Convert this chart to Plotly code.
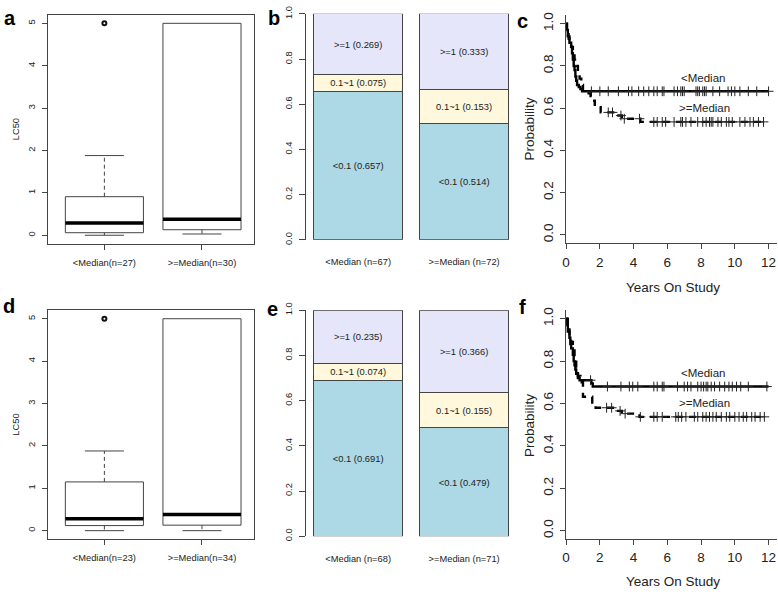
import numpy as np
import plotly.graph_objects as go

W, H = 778, 595
FONT = "Liberation Sans, Arial, Helvetica, sans-serif"
INK = "#222222"
EDGE = "#444444"

# ---------------- data ----------------
# panel a / d : LC50 boxplots (summary statistics)
box_groups_a = ["<Median(n=27)", ">=Median(n=30)"]
box_a_lower = [0.0, 0.03]
box_a_q1 = [0.06, 0.13]
box_a_median = [0.29, 0.38]
box_a_q3 = [0.91, 5.0]
box_a_upper = [1.88, 5.0]
box_a_outliers = [[5.0], []]

box_groups_d = ["<Median(n=23)", ">=Median(n=34)"]
box_d_lower = [0.0, 0.0]
box_d_q1 = [0.12, 0.13]
box_d_median = [0.28, 0.38]
box_d_q3 = [1.15, 5.0]
box_d_upper = [1.88, 5.0]
box_d_outliers = [[5.0], []]

box_yticks = [0, 1, 2, 3, 4, 5]

# panel b / e : stacked proportions
bar_levels = ["<0.1", "0.1~1", ">=1"]
bar_colors = ["#ADD8E6", "#FFF8DC", "#E6E6FA"]
bar_groups_b = ["<Median (n=67)", ">=Median (n=72)"]
bar_b_low = [0.657, 0.514]
bar_b_mid = [0.075, 0.153]
bar_b_high = [0.269, 0.333]
bar_groups_e = ["<Median (n=68)", ">=Median (n=71)"]
bar_e_low = [0.691, 0.479]
bar_e_mid = [0.074, 0.155]
bar_e_high = [0.235, 0.366]
bar_yticks = [0.0, 0.2, 0.4, 0.6, 0.8, 1.0]

# panel c / f : Kaplan-Meier curves
km_labels = ["<Median", ">=Median"]
c_lo_t = [0, 0.05, 0.1, 0.15, 0.2, 0.3, 0.35, 0.4, 0.45, 0.5, 0.55, 0.6, 0.65, 0.75, 0.85, 0.95, 12.0]
c_lo_s = [1.0, 0.97, 0.95, 0.93, 0.91, 0.89, 0.86, 0.83, 0.80, 0.78, 0.75, 0.73, 0.71, 0.70, 0.69, 0.68, 0.68]
c_lo_cens = [1.5, 2.0, 2.5, 3.1, 3.7, 3.9, 4.3, 4.6, 4.9, 5.2, 5.4, 5.7, 5.8, 6.4, 6.6, 6.8, 6.9, 7.0,
             7.7, 7.8, 7.9, 8.1, 8.2, 8.3, 8.7, 9.1, 9.6, 9.8, 10.0, 10.3, 10.8, 11.3, 12.0]
c_hi_t = [0, 0.05, 0.1, 0.2, 0.3, 0.4, 0.5, 0.6, 0.7, 0.8, 0.9, 1.0, 1.45, 1.7, 2.05, 2.9, 3.3, 4.4, 11.8]
c_hi_s = [1.0, 0.97, 0.94, 0.92, 0.89, 0.86, 0.83, 0.80, 0.77, 0.74, 0.71, 0.67, 0.635, 0.605, 0.58,
          0.565, 0.55, 0.535, 0.535]
c_hi_cens = [2.5, 2.75, 3.25, 3.45, 4.35, 5.2, 5.4, 5.7, 5.9, 6.4, 6.8, 6.9, 7.1, 7.4, 7.8, 8.1, 8.3,
             8.5, 8.6, 8.7, 9.0, 9.2, 9.5, 9.65, 9.85, 10.3, 10.6, 10.9, 11.1, 11.4, 11.7]

f_lo_t = [0, 0.05, 0.1, 0.2, 0.25, 0.3, 0.4, 0.45, 0.5, 0.55, 0.6, 0.7, 0.8, 1.5, 1.58, 12.0]
f_lo_s = [1.0, 0.97, 0.94, 0.91, 0.88, 0.86, 0.83, 0.80, 0.78, 0.76, 0.74, 0.72, 0.71, 0.695, 0.68, 0.68]
f_lo_cens = [1.45, 2.45, 3.25, 3.75, 3.95, 4.25, 5.2, 5.4, 5.7, 5.8, 6.6, 7.0, 7.2, 7.4, 7.8, 8.0, 8.15,
             8.3, 8.4, 8.6, 8.8, 9.1, 9.4, 9.65, 9.85, 10.1, 10.35, 10.8, 11.9]
f_hi_t = [0, 0.1, 0.2, 0.3, 0.4, 0.5, 0.6, 0.7, 0.85, 1.0, 1.55, 1.75, 3.0, 3.3, 4.35, 11.8]
f_hi_s = [1.0, 0.96, 0.92, 0.89, 0.85, 0.81, 0.77, 0.73, 0.70, 0.632, 0.605, 0.58, 0.565, 0.552,
          0.537, 0.537]
f_hi_cens = [2.4, 2.7, 3.2, 3.5, 4.4, 5.2, 5.4, 5.7, 6.5, 6.65, 6.85, 7.1, 7.6, 7.8, 8.1, 8.3, 8.5,
             8.7, 8.9, 9.2, 9.5, 9.7, 10.0, 10.25, 10.5, 10.7, 11.0, 11.2, 11.5, 11.75]
km_xticks = [0, 2, 4, 6, 8, 10, 12]
km_yticks = [0.0, 0.2, 0.4, 0.6, 0.8, 1.0]


# ---------------- helpers ----------------
def pxx(x):
    return x / W


def pxy(y):
    return 1 - y / H


def dom_x(a, b):
    return [pxx(a), pxx(b)]


def dom_y(top, bottom):
    return [pxy(bottom), pxy(top)]


fig = go.Figure()


def add_box_panel(n, lower, q1, med, q3, upper, outliers):
    xa, ya = f"x{n}", f"y{n}"
    hw, cw = 0.4, 0.2
    for i in range(len(med)):
        c = i + 1
        fig.add_trace(go.Scatter(x=[c - hw, c + hw, c + hw, c - hw, c - hw],
                                 y=[q1[i], q1[i], q3[i], q3[i], q1[i]],
                                 mode="lines", fill="toself", fillcolor="white",
                                 line=dict(color=EDGE, width=1), xaxis=xa, yaxis=ya,
                                 hoverinfo="skip", showlegend=False))
        for a, b in ((q3[i], upper[i]), (q1[i], lower[i])):
            if a != b:
                fig.add_trace(go.Scatter(x=[c, c], y=[a, b], mode="lines",
                                         line=dict(color=EDGE, width=1, dash="4px,3px"),
                                         xaxis=xa, yaxis=ya, hoverinfo="skip", showlegend=False))
        for v in (upper[i], lower[i]):
            if v != q3[i] or v == lower[i]:
                fig.add_trace(go.Scatter(x=[c - cw, c + cw], y=[v, v], mode="lines",
                                         line=dict(color=EDGE, width=1),
                                         xaxis=xa, yaxis=ya, hoverinfo="skip", showlegend=False))
        fig.add_trace(go.Scatter(x=[c - hw, c + hw], y=[med[i], med[i]], mode="lines",
                                 line=dict(color="black", width=3.5),
                                 xaxis=xa, yaxis=ya, hoverinfo="skip", showlegend=False))
        if outliers[i]:
            fig.add_trace(go.Scatter(x=[c] * len(outliers[i]), y=outliers[i], mode="markers",
                                     marker=dict(symbol="circle-open", size=4, color="#111",
                                                 line=dict(width=2)),
                                     xaxis=xa, yaxis=ya, hoverinfo="skip", showlegend=False))


def add_bar_panel(n, low, mid, high):
    xa, ya = f"x{n}", f"y{n}"
    xs = list(range(len(low)))
    for lvl, col, vals in zip(bar_levels, bar_colors, (low, mid, high)):
        fig.add_trace(go.Bar(x=xs, y=vals, width=0.845, marker=dict(color=col, line=dict(color=EDGE, width=1)),
                             text=[f"{lvl} ({v:.3f})" for v in vals], textposition="inside",
                             insidetextanchor="middle", constraintext="none", textangle=0,
                             textfont=dict(size=9.4, color=INK, family=FONT),
                             xaxis=xa, yaxis=ya, hoverinfo="skip", showlegend=False))


def step_value(times, surv, t):
    idx = np.searchsorted(np.asarray(times), t, side="right") - 1
    return float(np.asarray(surv)[idx])


def add_km_panel(n, lo_t, lo_s, lo_c, hi_t, hi_s, hi_c):
    xa, ya = f"x{n}", f"y{n}"
    for t, s, cens, dash in ((lo_t, lo_s, lo_c, "solid"), (hi_t, hi_s, hi_c, "7px,6px")):
        fig.add_trace(go.Scatter(x=t, y=s, mode="lines", line=dict(color="black", width=2.4, shape="hv", dash=dash),
                                 xaxis=xa, yaxis=ya, hoverinfo="skip", showlegend=False))
        fig.add_trace(go.Scatter(x=cens, y=[step_value(t, s, c) for c in cens], mode="markers",
                                 marker=dict(symbol="cross-thin", size=7, line=dict(color="#222", width=1)),
                                 xaxis=xa, yaxis=ya, hoverinfo="skip", showlegend=False))
    fig.add_annotation(x=8.1, y=0.745, xref=xa, yref=ya, text=km_labels[0], showarrow=False,
                       font=dict(size=11.5, color=INK, family=FONT))
    fig.add_annotation(x=8.2, y=0.603, xref=xa, yref=ya, text=km_labels[1], showarrow=False,
                       font=dict(size=11.5, color=INK, family=FONT))


add_box_panel(1, box_a_lower, box_a_q1, box_a_median, box_a_q3, box_a_upper, box_a_outliers)
add_bar_panel(2, bar_b_low, bar_b_mid, bar_b_high)
add_km_panel(3, c_lo_t, c_lo_s, c_lo_cens, c_hi_t, c_hi_s, c_hi_cens)
add_box_panel(4, box_d_lower, box_d_q1, box_d_median, box_d_q3, box_d_upper, box_d_outliers)
add_bar_panel(5, bar_e_low, bar_e_mid, bar_e_high)
add_km_panel(6, f_lo_t, f_lo_s, f_lo_cens, f_hi_t, f_hi_s, f_hi_cens)

small = dict(size=9.3, color=INK, family=FONT)
big = dict(size=13.5, color=INK, family=FONT)

layout = dict(
    width=W, height=H, margin=dict(l=0, r=0, t=0, b=0), paper_bgcolor="white", plot_bgcolor="white",
    barmode="stack", font=dict(family=FONT, color=INK), showlegend=False,
)

rows = [(7, 241, 6, 237, 7.4, 240.6), (309, 543, 309, 540, 309, 543)]
groups_box = [box_groups_a, box_groups_d]
groups_bar = [bar_groups_b, bar_groups_e]
for r, (bt, bb, brt, brb, kt, kb) in enumerate(rows):
    n0 = r * 3
    layout[f"xaxis{n0 + 1}"] = dict(domain=dom_x(44, 251), anchor=f"y{n0 + 1}", range=[0.42, 2.53],
                                    tickvals=[1, 2], ticktext=groups_box[r], ticks="outside", ticklen=5,
                                    tickcolor=EDGE, showline=True, mirror=True, linecolor=EDGE, linewidth=1,
                                    showgrid=False, zeroline=False, tickfont=small, ticklabelstandoff=5)
    layout[f"yaxis{n0 + 1}"] = dict(domain=dom_y(bt, bb), anchor=f"x{n0 + 1}", range=[-0.2, 5.2],
                                    tickvals=box_yticks, ticks="outside", ticklen=5, tickcolor=EDGE,
                                    showline=True, mirror=True, linecolor=EDGE, linewidth=1,
                                    showgrid=False, zeroline=False, tickangle=-90, tickfont=small,
                                    ticklabelstandoff=3)
    layout[f"xaxis{n0 + 2}"] = dict(domain=dom_x(304, 508), anchor=f"y{n0 + 2}", range=[-0.488, 1.427],
                                    tickvals=[0, 1], ticktext=groups_bar[r], ticks="", showline=False,
                                    showgrid=False, zeroline=False, tickfont=small, ticklabelstandoff=15)
    layout[f"yaxis{n0 + 2}"] = dict(domain=dom_y(brt, brb), anchor=f"x{n0 + 2}", range=[0, 1],
                                    tickvals=bar_yticks, tickformat=".1f", ticks="outside", ticklen=6,
                                    tickcolor=EDGE, showline=True, linecolor=EDGE, linewidth=1,
                                    showgrid=False, zeroline=False, tickangle=-90, tickfont=small,
                                    ticklabelstandoff=4)
    layout[f"xaxis{n0 + 3}"] = dict(domain=dom_x(565, 777), anchor=f"y{n0 + 3}", range=[0, 12.5],
                                    tickvals=km_xticks, ticks="outside", ticklen=5, tickcolor=EDGE,
                                    showline=True, linecolor=EDGE, linewidth=1, showgrid=False,
                                    zeroline=False, tickfont=big, ticklabelstandoff=1)
    layout[f"yaxis{n0 + 3}"] = dict(domain=dom_y(kt, kb), anchor=f"x{n0 + 3}", range=[-0.04, 1.04],
                                    tickvals=km_yticks, tickformat=".1f", ticks="outside", ticklen=5,
                                    tickcolor=EDGE, showline=True, linecolor=EDGE, linewidth=1,
                                    showgrid=False, zeroline=False, tickangle=-90, tickfont=big,
                                    ticklabelstandoff=2)

fig.update_layout(**layout)

annots = [
    ("LC50", 12, 124, -90, small), ("LC50", 12, 426, -90, small),
    ("Probability", 528, 124, -90, big), ("Probability", 528, 427, -90, big),
    ("Years On Study", 672, 286, 0, big), ("Years On Study", 672, 586, 0, big),
]
for txt, x, y, ang, f in annots:
    fig.add_annotation(x=pxx(x), y=pxy(y), xref="paper", yref="paper", text=txt, textangle=ang,
                       showarrow=False, font=f, xanchor="center", yanchor="middle")

letters = [("a", 6, 10), ("b", 271, 10), ("c", 521, 13), ("d", 5, 305), ("e", 270, 308), ("f", 521, 306)]
for txt, x, y in letters:
    fig.add_annotation(x=pxx(x), y=pxy(y), xref="paper", yref="paper", text=f"<b>{txt}</b>",
                       showarrow=False, font=dict(size=20, color="black", family=FONT),
                       xanchor="center", yanchor="middle")

fig.write_html("out.html", config={"displayModeBar": False},
               post_script="document.body.style.margin='0';document.body.style.overflow='hidden';")
